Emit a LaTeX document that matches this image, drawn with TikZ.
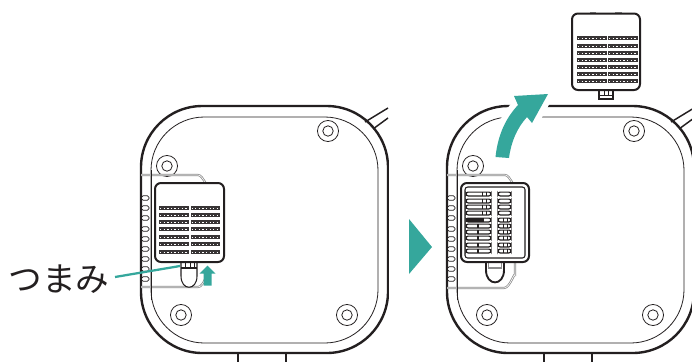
\documentclass[tikz,border=0pt]{standalone}
\usepackage{fontspec}
\newfontfamily\jpfont{Noto Sans CJK JP}
\definecolor{tealc}{HTML}{35A79C}
\definecolor{inkc}{HTML}{231F20}
\definecolor{grayc}{HTML}{8A8A8A}
\tikzset{
  outerline/.style={draw=inkc,line width=1.8pt},
  innerline/.style={draw=inkc,line width=0.6pt},
  recess/.style={draw=grayc,line width=1.6pt},
  recesswhite/.style={draw=white,line width=0.45pt},
  filterbody/.style={draw=inkc,fill=white,line width=1.5pt,rounded corners=4.5pt},
  slotb/.style={draw=inkc,fill=white,line width=0.55pt,rounded corners=1.2pt},
  gbar/.style={fill=inkc!90},
  gdots/.style={draw=white,line width=0.6pt,dash pattern=on 1pt off 1.7pt},
  rowbar/.style={draw=inkc,fill=white,line width=0.9pt,rounded corners=1.6pt},
  tealfill/.style={fill=tealc,draw=none}
}
\newcommand{\drawdevice}{%
  \draw[outerline,rounded corners=46pt] (141,230) -- (141,106) -- (388,106) -- (388,353) -- (141,353) -- cycle;
  \draw[innerline,rounded corners=40pt] (151,230) -- (151,117) -- (378,117) -- (378,343) -- (151,343) -- cycle;
  \draw[inkc,line width=1.1pt] (365,122) -- (388,108);
  \draw[inkc,line width=1.1pt] (373,129) -- (388,118);
  \draw[inkc,line width=1.1pt] (238,353) -- (238,362);
  \draw[inkc,line width=1.1pt] (286,353) -- (286,362);
  \foreach \sx/\sy in {328/131,167/166,347/315,181/315}{
    \draw[inkc,line width=0.6pt,fill=white] (\sx,\sy) circle[radius=7.9pt];
    \draw[inkc,line width=0.6pt] (\sx,\sy) circle[radius=3.9pt];
  }
  \foreach \sy in {198,208,218,229,239,249,259,269,279}{
    \draw[slotb] (141.5,\sy-2.2) rectangle (149,\sy+2.2);
  }
}
\newcommand{\drawgrille}[3]{%
  \foreach \ry in {#3}{
    \fill[gbar] (#1,\ry-2.3) rectangle ++(29.5,4.6);
    \fill[gbar] (#2,\ry-2.3) rectangle ++(29.5,4.6);
    \draw[gdots] (#1+1,\ry) -- ++(27.5,0);
    \draw[gdots] (#2+1,\ry) -- ++(27.5,0);
  }
}
\begin{document}
\begin{tikzpicture}[x=0.75pt,y=-0.75pt]
\useasboundingbox (0,0) rectangle (692,362);
% ---------- left device ----------
\begin{scope}
  \clip (120,90) rectangle (388.8,362);
  \drawdevice
  \draw[recess] (141,175) -- (198,175) to[out=0,in=-100] (208,184);
  \draw[recess] (141,287) -- (198,287) to[out=0,in=100] (209,274);
  \draw[recesswhite] (141,175) -- (198,175) to[out=0,in=-100] (208,184);
  \draw[recesswhite] (141,287) -- (198,287) to[out=0,in=100] (209,274);
  \draw[innerline] (151,170) -- (151,300);
  \draw[inkc,line width=0.8pt,fill=white] (181,262) -- (181,276) .. controls (181,291) and (197,291) .. (197,276) -- (197,262);
  \draw[inkc,line width=0.8pt] (181,268) -- (197,268);
  \draw[inkc,line width=0.7pt] (185,262) -- (185,268) (190,262) -- (190,268) (194,262) -- (194,268);
  \draw[filterbody] (155,183) rectangle (224,262);
  \drawgrille{159}{190.5}{208,215,222,229,237,244,252}
\end{scope}
% small teal arrow
\fill[tealfill] (207.5,265.5) -- (215.5,273.5) -- (211.5,273.5) -- (211.5,285.5) -- (203.5,285.5) -- (203.5,273.5) -- (199.5,273.5) -- cycle;
% label and leader
\node[inner sep=0pt,anchor=center,text=inkc,font=\jpfont\fontsize{25.2pt}{27pt}\selectfont] (lab) at (59,279) {つまみ};
\coordinate (tabpt) at (180,266);
\coordinate (labpt) at (115,277);
\draw[tealc,line width=1.7pt] (labpt) -- (tabpt);
% triangle
\fill[tealfill] (409,219) -- (432,247) -- (409,274) -- cycle;
% ---------- right device ----------
\begin{scope}
  \clip (430,90) rectangle (692,362);
  \begin{scope}[xshift=229.5pt]
    \drawdevice
    \draw[recess] (141,175) -- (199,175) to[out=0,in=-100] (209,184);
    \draw[recess] (141,288) -- (198,288) to[out=0,in=90] (209,276) -- (209,262);
    \draw[recesswhite] (141,175) -- (199,175) to[out=0,in=-100] (209,184);
    \draw[recesswhite] (141,288) -- (198,288) to[out=0,in=90] (209,276) -- (209,262);
    \draw[innerline] (151,170) -- (151,300);
  \end{scope}
  \draw[inkc,line width=1.4pt,fill=white] (486,258) -- (486,270) .. controls (486,286.5) and (504,286.5) .. (504,270) -- (504,258);
  \draw[grayc,line width=0.8pt] (488.5,262) -- (488.5,268) -- (501.5,268) -- (501.5,262);
  \draw[grayc,line width=2pt] (477,184) -- (487,184) (502,184) -- (512,184);
  \draw[filterbody] (461,183) rectangle (529,262);
  \draw[inkc,line width=0.8pt,rounded corners=2pt] (465,187) rectangle (525,258);
  \foreach \ry in {194,201,207,213,220,226,232,238,245,251}{
    \draw[rowbar] (466,\ry-1.9) rectangle (491,\ry+1.9);
    \draw[rowbar] (498,\ry-1.9) rectangle (511,\ry+1.9);
  }
  \foreach \ry in {194,201,207,213}{
    \draw[inkc,line width=0.7pt] (482,\ry-1.9) -- (482,\ry+1.9) (486,\ry-1.9) -- (486,\ry+1.9) (490,\ry-1.9) -- (490,\ry+1.9);
  }
  \foreach \ry in {226,232,238,245,251}{
    \fill[inkc] (477,\ry-1.9) rectangle (479,\ry+1.9);
    \draw[inkc,line width=0.7pt] (503,\ry-1.9) -- (503,\ry+1.9) (507,\ry-1.9) -- (507,\ry+1.9);
  }
  \fill[inkc] (466,217.6) rectangle (484,222.4);
  \draw[inkc,line width=0.7pt] (503,218) -- (503,222) (507,218) -- (507,222);
\end{scope}
% big teal arrow with white halo
\path[draw=white,line width=9pt,line join=miter]
  (495.5,157) .. controls (498,134) and (506,118) .. (518,105) -- (514,96) -- (548,94) -- (532,123) -- (527,117) .. controls (517,128) and (511,142) .. (509,158) -- cycle;
\fill[tealfill]
  (495.5,157) .. controls (498,134) and (506,118) .. (518,105) -- (514,96) -- (548,94) -- (532,123) -- (527,117) .. controls (517,128) and (511,142) .. (509,158) -- cycle;
% ---------- removed filter ----------
\draw[grayc,line width=1.5pt] (590,12.5) -- (596,12.5) (615,12.5) -- (622,12.5);
\draw[inkc,line width=0.8pt,fill=white] (599,90) -- (599,99) -- (613,99) -- (613,90);
\draw[inkc,line width=0.6pt] (599,95) -- (613,95) (604,90) -- (604,95) (608,90) -- (608,95);
\draw[filterbody] (572,13.5) rectangle (640,90);
\drawgrille{577}{608}{38,46,53,60,67,74,81}
\end{tikzpicture}
\end{document}
